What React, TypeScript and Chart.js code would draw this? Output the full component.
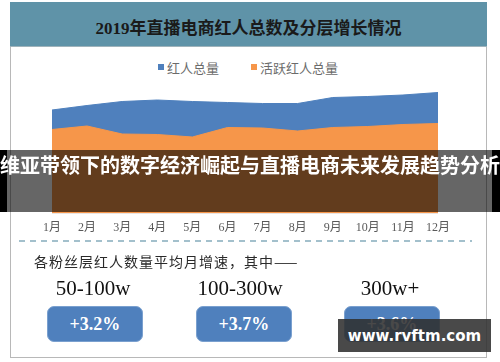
import React, { useEffect, useRef } from "react";
import { Chart, registerables } from "chart.js";

Chart.register(...registerables);

const months = ["1月", "2月", "3月", "4月", "5月", "6月", "7月", "8月", "9月", "10月", "11月", "12月"];
const totalInfluencers = [103.5, 108, 112, 113.5, 112, 111, 110, 110, 116, 117, 118.5, 121];
const activeInfluencers = [84, 87.5, 79.5, 79, 76.5, 86, 85.5, 82.5, 86, 87, 89, 90];
const seriesNames = ["红人总量", "活跃红人总量"];
const tiers = ["50-100w", "100-300w", "300w+"];
const tierGrowth = ["+3.2%", "+3.7%", "+3.6%"];

const BLUE = "#4f80bd";
const ORANGE = "#f6964a";
const CJK = '"Noto Sans CJK SC", sans-serif';
const SERIF_CJK = '"Liberation Serif", "Noto Sans CJK SC", serif';

export default function App() {
  const canvasRef = useRef<HTMLCanvasElement | null>(null);

  useEffect(() => {
    document.body.style.margin = "0";
    const canvas = canvasRef.current;
    if (!canvas) return;
    const chart = new Chart(canvas, {
      type: "line",
      data: {
        labels: months,
        datasets: [
          {
            label: seriesNames[0],
            data: totalInfluencers,
            backgroundColor: BLUE,
            borderColor: BLUE,
            borderWidth: 1,
            fill: "origin",
            pointRadius: 0,
            tension: 0,
            order: 2,
          },
          {
            label: seriesNames[1],
            data: activeInfluencers,
            backgroundColor: ORANGE,
            borderColor: ORANGE,
            borderWidth: 1,
            fill: "origin",
            pointRadius: 0,
            tension: 0,
            order: 1,
          },
        ],
      },
      options: {
        animation: false,
        responsive: false,
        maintainAspectRatio: false,
        layout: { padding: { left: 52, right: 62, top: 73.5, bottom: 0 } },
        plugins: { legend: { display: false }, tooltip: { enabled: false } },
        scales: {
          x: {
            offset: false,
            grid: { display: false, drawTicks: false },
            border: { display: false },
            ticks: {
              color: "#595959",
              font: { family: SERIF_CJK, size: 12 },
              padding: 7,
              maxRotation: 0,
              autoSkip: false,
            },
            afterFit: (scale: any) => {
              scale.height = 31.5;
            },
          },
          y: { display: false, min: 0, max: 140 },
        },
      },
    });
    return () => chart.destroy();
  }, []);

  const tierCenters = [93, 240, 390];
  const boxLefts = [47, 196, 344];

  return (
    <div style={{ position: "absolute", left: 0, top: 0, width: 500, height: 362, background: "#fff", overflow: "hidden" }}>
      {/* frame */}
      <div style={{ position: "absolute", left: 10, top: 2, width: 475, height: 354, border: "1px solid #b8b8b8" }} />
      {/* header */}
      <div
        style={{
          position: "absolute", left: 10, top: 2, width: 477, height: 45, background: "#5f93a8",
          borderBottom: "1px solid #9fb3bb", boxSizing: "border-box",
          display: "flex", alignItems: "center", justifyContent: "center",
          font: `bold 17px ${SERIF_CJK}`, color: "#1a1a1a", paddingTop: 5,
        }}
      >
        2019年直播电商红人总数及分层增长情况
      </div>
      {/* legend */}
      <div style={{ position: "absolute", left: 158, top: 59, height: 16, display: "flex", alignItems: "center", font: `13px ${CJK}`, color: "#6b6b6b", whiteSpace: "nowrap" }}>
        <span style={{ display: "inline-block", width: 6, height: 6, background: BLUE, marginRight: 3 }} />
        <span>{seriesNames[0]}</span>
        <span style={{ display: "inline-block", width: 6, height: 6, background: ORANGE, marginLeft: 32, marginRight: 3 }} />
        <span>{seriesNames[1]}</span>
      </div>
      <canvas ref={canvasRef} width={500} height={245} style={{ position: "absolute", left: 0, top: 0, width: 500, height: 245 }} />
      {/* dashed separator */}
      <div style={{ position: "absolute", left: 19, top: 240, width: 453, height: 2, background: "repeating-linear-gradient(to right, #a3c0cc 0 6px, transparent 6px 11px)" }} />
      <div style={{ position: "absolute", left: 34, top: 251, height: 20, lineHeight: "20px", font: `14px ${CJK}`, color: "#2a2a2a", letterSpacing: 1, whiteSpace: "nowrap" }}>
        各粉丝层红人数量平均月增速，其中——
      </div>
      {tiers.map((t, i) => (
        <div key={t} style={{ position: "absolute", left: tierCenters[i] - 60, top: 276, width: 120, height: 24, lineHeight: "24px", textAlign: "center", font: `21px "Liberation Serif", serif`, color: "#111" }}>
          {t}
        </div>
      ))}
      {tierGrowth.map((g, i) => (
        <div
          key={g}
          style={{
            position: "absolute", left: boxLefts[i], top: 306, width: 96, height: 36, boxSizing: "border-box",
            background: BLUE, border: "1px solid #7aa0cf", borderRadius: 7,
            display: "flex", alignItems: "center", justifyContent: "center",
            font: `bold 18px "Liberation Serif", serif`, color: "#fff",
          }}
        >
          {g}
        </div>
      ))}
      {/* overlay banner */}
      <div style={{ position: "absolute", left: 0, top: 150, width: 500, height: 62, background: "rgba(0,0,0,0.6)" }} />
      <div style={{ position: "absolute", left: 0, top: 150, width: 7, height: 62, background: "#000" }} />
      <div style={{ position: "absolute", left: 492, top: 150, width: 8, height: 62, background: "#000" }} />
      <div style={{ position: "absolute", left: -20, top: 150, width: 540, height: 62, lineHeight: "62px", textAlign: "center", font: `bold 20px ${CJK}`, color: "#fff", whiteSpace: "nowrap" }}>
        维亚带领下的数字经济崛起与直播电商未来发展趋势分析
      </div>
      {/* watermark */}
      <div
        style={{
          position: "absolute", left: 338, top: 319, width: 153, height: 33, background: "rgba(48,48,48,0.88)",
          display: "flex", alignItems: "center", justifyContent: "center",
          font: `bold 15px "DejaVu Sans", sans-serif`, color: "#fff",
        }}
      >
        www.rvftm.com
      </div>
    </div>
  );
}
